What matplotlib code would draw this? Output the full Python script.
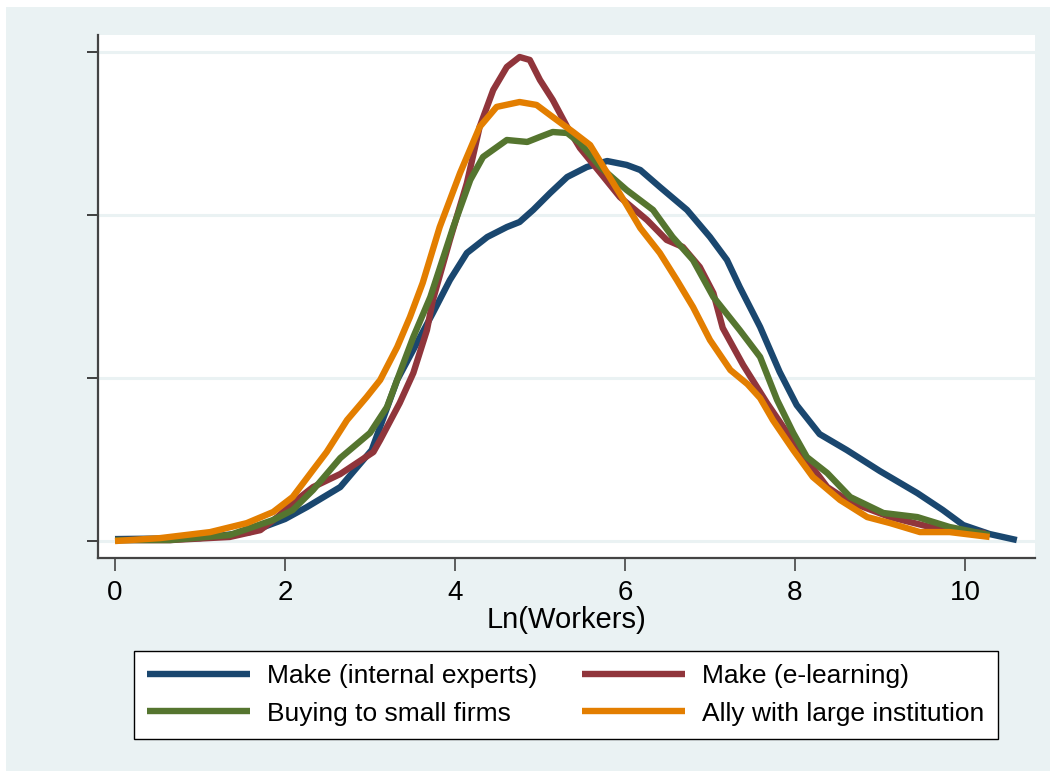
import matplotlib
matplotlib.use("Agg")
import matplotlib.pyplot as plt
from matplotlib.patches import Rectangle

plt.rcParams['font.family'] = ['Liberation Sans', 'DejaVu Sans']

# kernel density of ln(workers)
x_internal = [0.00, 1.00, 1.59, 2.00, 2.26, 2.65, 3.02, 3.32, 3.74, 3.94, 4.14, 4.38, 4.61, 4.76,
              4.92, 5.12, 5.32, 5.55, 5.79, 6.02, 6.18, 6.41, 6.73, 7.00, 7.20, 7.35, 7.59,
              7.82, 8.02, 8.29, 8.61, 9.00, 9.44, 9.74, 9.98, 10.29, 10.61]
d_internal = [0.0012, 0.0018, 0.0055, 0.0135, 0.0209, 0.0331, 0.0558, 0.0988, 0.1399, 0.1601,
              0.1767, 0.1865, 0.1926, 0.1957, 0.2031, 0.2135, 0.2233, 0.2294, 0.2331, 0.2307,
              0.2276, 0.2172, 0.2031, 0.1865, 0.1724, 0.1558, 0.1313, 0.1037, 0.0834, 0.0656,
              0.0558, 0.0429, 0.0294, 0.0190, 0.0098, 0.0043, 0.0006]

x_elearn = [0.00, 0.65, 1.35, 1.71, 1.91, 2.09, 2.33, 2.65, 3.04, 3.12, 3.35, 3.51, 3.67, 3.74,
            3.94, 4.14, 4.29, 4.45, 4.61, 4.76, 4.88, 5.00, 5.15, 5.32, 5.47, 5.71, 5.94, 6.26,
            6.49, 6.68, 6.88, 7.04, 7.15, 7.39, 7.67, 7.91, 8.14, 8.38, 8.65, 9.12, 9.59,
            10.02, 10.24]
d_elearn = [0.0006, 0.0006, 0.0025, 0.0067, 0.0147, 0.0233, 0.0331, 0.0411, 0.0546, 0.0620,
            0.0847, 0.1031, 0.1294, 0.1479, 0.1847, 0.2196, 0.2540, 0.2767, 0.2908, 0.2969,
            0.2951, 0.2828, 0.2706, 0.2540, 0.2411, 0.2258, 0.2110, 0.1969, 0.1847, 0.1804,
            0.1681, 0.1521, 0.1307, 0.1080, 0.0847, 0.0663, 0.0497, 0.0331, 0.0239, 0.0147,
            0.0086, 0.0055, 0.0049]

x_small = [0.00, 0.65, 1.35, 1.86, 2.09, 2.33, 2.65, 3.00, 3.20, 3.35, 3.51, 3.71, 3.98, 4.18,
           4.33, 4.61, 4.85, 5.00, 5.15, 5.32, 5.47, 5.71, 6.02, 6.33, 6.56, 6.80, 7.04, 7.35,
           7.59, 7.79, 7.98, 8.14, 8.38, 8.65, 9.04, 9.44, 9.82, 10.29]
d_small = [0.0006, 0.0006, 0.0037, 0.0129, 0.0190, 0.0313, 0.0509, 0.0663, 0.0822, 0.1031,
           0.1252, 0.1497, 0.1926, 0.2215, 0.2356, 0.2460, 0.2448, 0.2479, 0.2509, 0.2503,
           0.2442, 0.2294, 0.2153, 0.2031, 0.1865, 0.1724, 0.1497, 0.1294, 0.1129, 0.0865,
           0.0663, 0.0515, 0.0417, 0.0270, 0.0172, 0.0147, 0.0086, 0.0037]

x_ally = [0.00, 0.53, 1.12, 1.55, 1.86, 2.09, 2.33, 2.49, 2.73, 2.96, 3.12, 3.32, 3.47, 3.62,
          3.82, 4.06, 4.29, 4.49, 4.76, 4.96, 5.15, 5.39, 5.59, 5.79, 6.02, 6.18, 6.41, 6.61,
          6.80, 7.00, 7.24, 7.44, 7.59, 7.74, 7.98, 8.21, 8.53, 8.85, 9.12, 9.47, 9.82, 10.29]
d_ally = [0.0000, 0.0018, 0.0055, 0.0110, 0.0178, 0.0270, 0.0436, 0.0546, 0.0742, 0.0883,
          0.0988, 0.1190, 0.1374, 0.1583, 0.1926, 0.2258, 0.2540, 0.2663, 0.2693, 0.2675,
          0.2601, 0.2509, 0.2429, 0.2258, 0.2061, 0.1920, 0.1767, 0.1601, 0.1436, 0.1233,
          0.1049, 0.0963, 0.0877, 0.0742, 0.0558, 0.0393, 0.0252, 0.0147, 0.0110, 0.0055,
          0.0055, 0.0025]

labels = ["Make (internal experts)", "Make (e-learning)",
          "Buying to small firms", "Ally with large institution"]
colors = ["#1a476f", "#90353b", "#55752f", "#e37e00"]
xticks = [0, 2, 4, 6, 8, 10]
yticks = [0, 0.1, 0.2, 0.3]

bg = "#eaf2f3"
fig = plt.figure(figsize=(10.5, 7.71), dpi=100, facecolor="white")
fig.patches.append(Rectangle((6 / 1050, 0), 1, 1 - 7 / 771, transform=fig.transFigure,
                             facecolor=bg, edgecolor="none", zorder=-10))
ax = fig.add_axes([98 / 1050, 1 - 558 / 771, (1035 - 98) / 1050, (558 - 35) / 771])
ax.set_facecolor("white")

series = [(x_internal, d_internal), (x_elearn, d_elearn), (x_small, d_small), (x_ally, d_ally)]
lines = []
for (xs, ds), lab, col in zip(series, labels, colors):
    ln, = ax.plot(xs, ds, color=col, lw=4.6, label=lab, solid_joinstyle="round",
                  solid_capstyle="butt")
    lines.append(ln)

ax.set_xlim(-0.2, 10.824)
ax.set_ylim(-0.0104, 0.3104)
ax.set_xticks(xticks)
ax.set_yticks(yticks)
ax.set_yticklabels([])
ax.grid(axis="y", color=bg, lw=2.2)
ax.set_axisbelow(True)
for s in ["top", "right"]:
    ax.spines[s].set_visible(False)
for s in ["left", "bottom"]:
    ax.spines[s].set_color("#444444")
    ax.spines[s].set_linewidth(1.6)
ax.tick_params(axis="x", length=9, width=1.2, color="#444444", labelsize=20, pad=7)
ax.tick_params(axis="y", length=8, width=1.2, color="#222222")
ax.set_xlabel("Ln(Workers)", fontsize=21, labelpad=0)

# order handles so the legend reads row by row like the original
order = [0, 2, 1, 3]
leg = fig.legend([lines[i] for i in order], [labels[i] for i in order],
                 loc="center", bbox_to_anchor=(566 / 1050, 1 - 695 / 771),
                 ncol=2, fontsize=19, frameon=True, fancybox=False,
                 handlelength=3.9, handletextpad=0.65, columnspacing=1.7,
                 labelspacing=0.5, borderpad=0.5)
leg.get_frame().set_edgecolor("black")
leg.get_frame().set_linewidth(1.0)
leg.get_frame().set_alpha(1)

fig.savefig("out.png", dpi=100, facecolor=fig.get_facecolor())
